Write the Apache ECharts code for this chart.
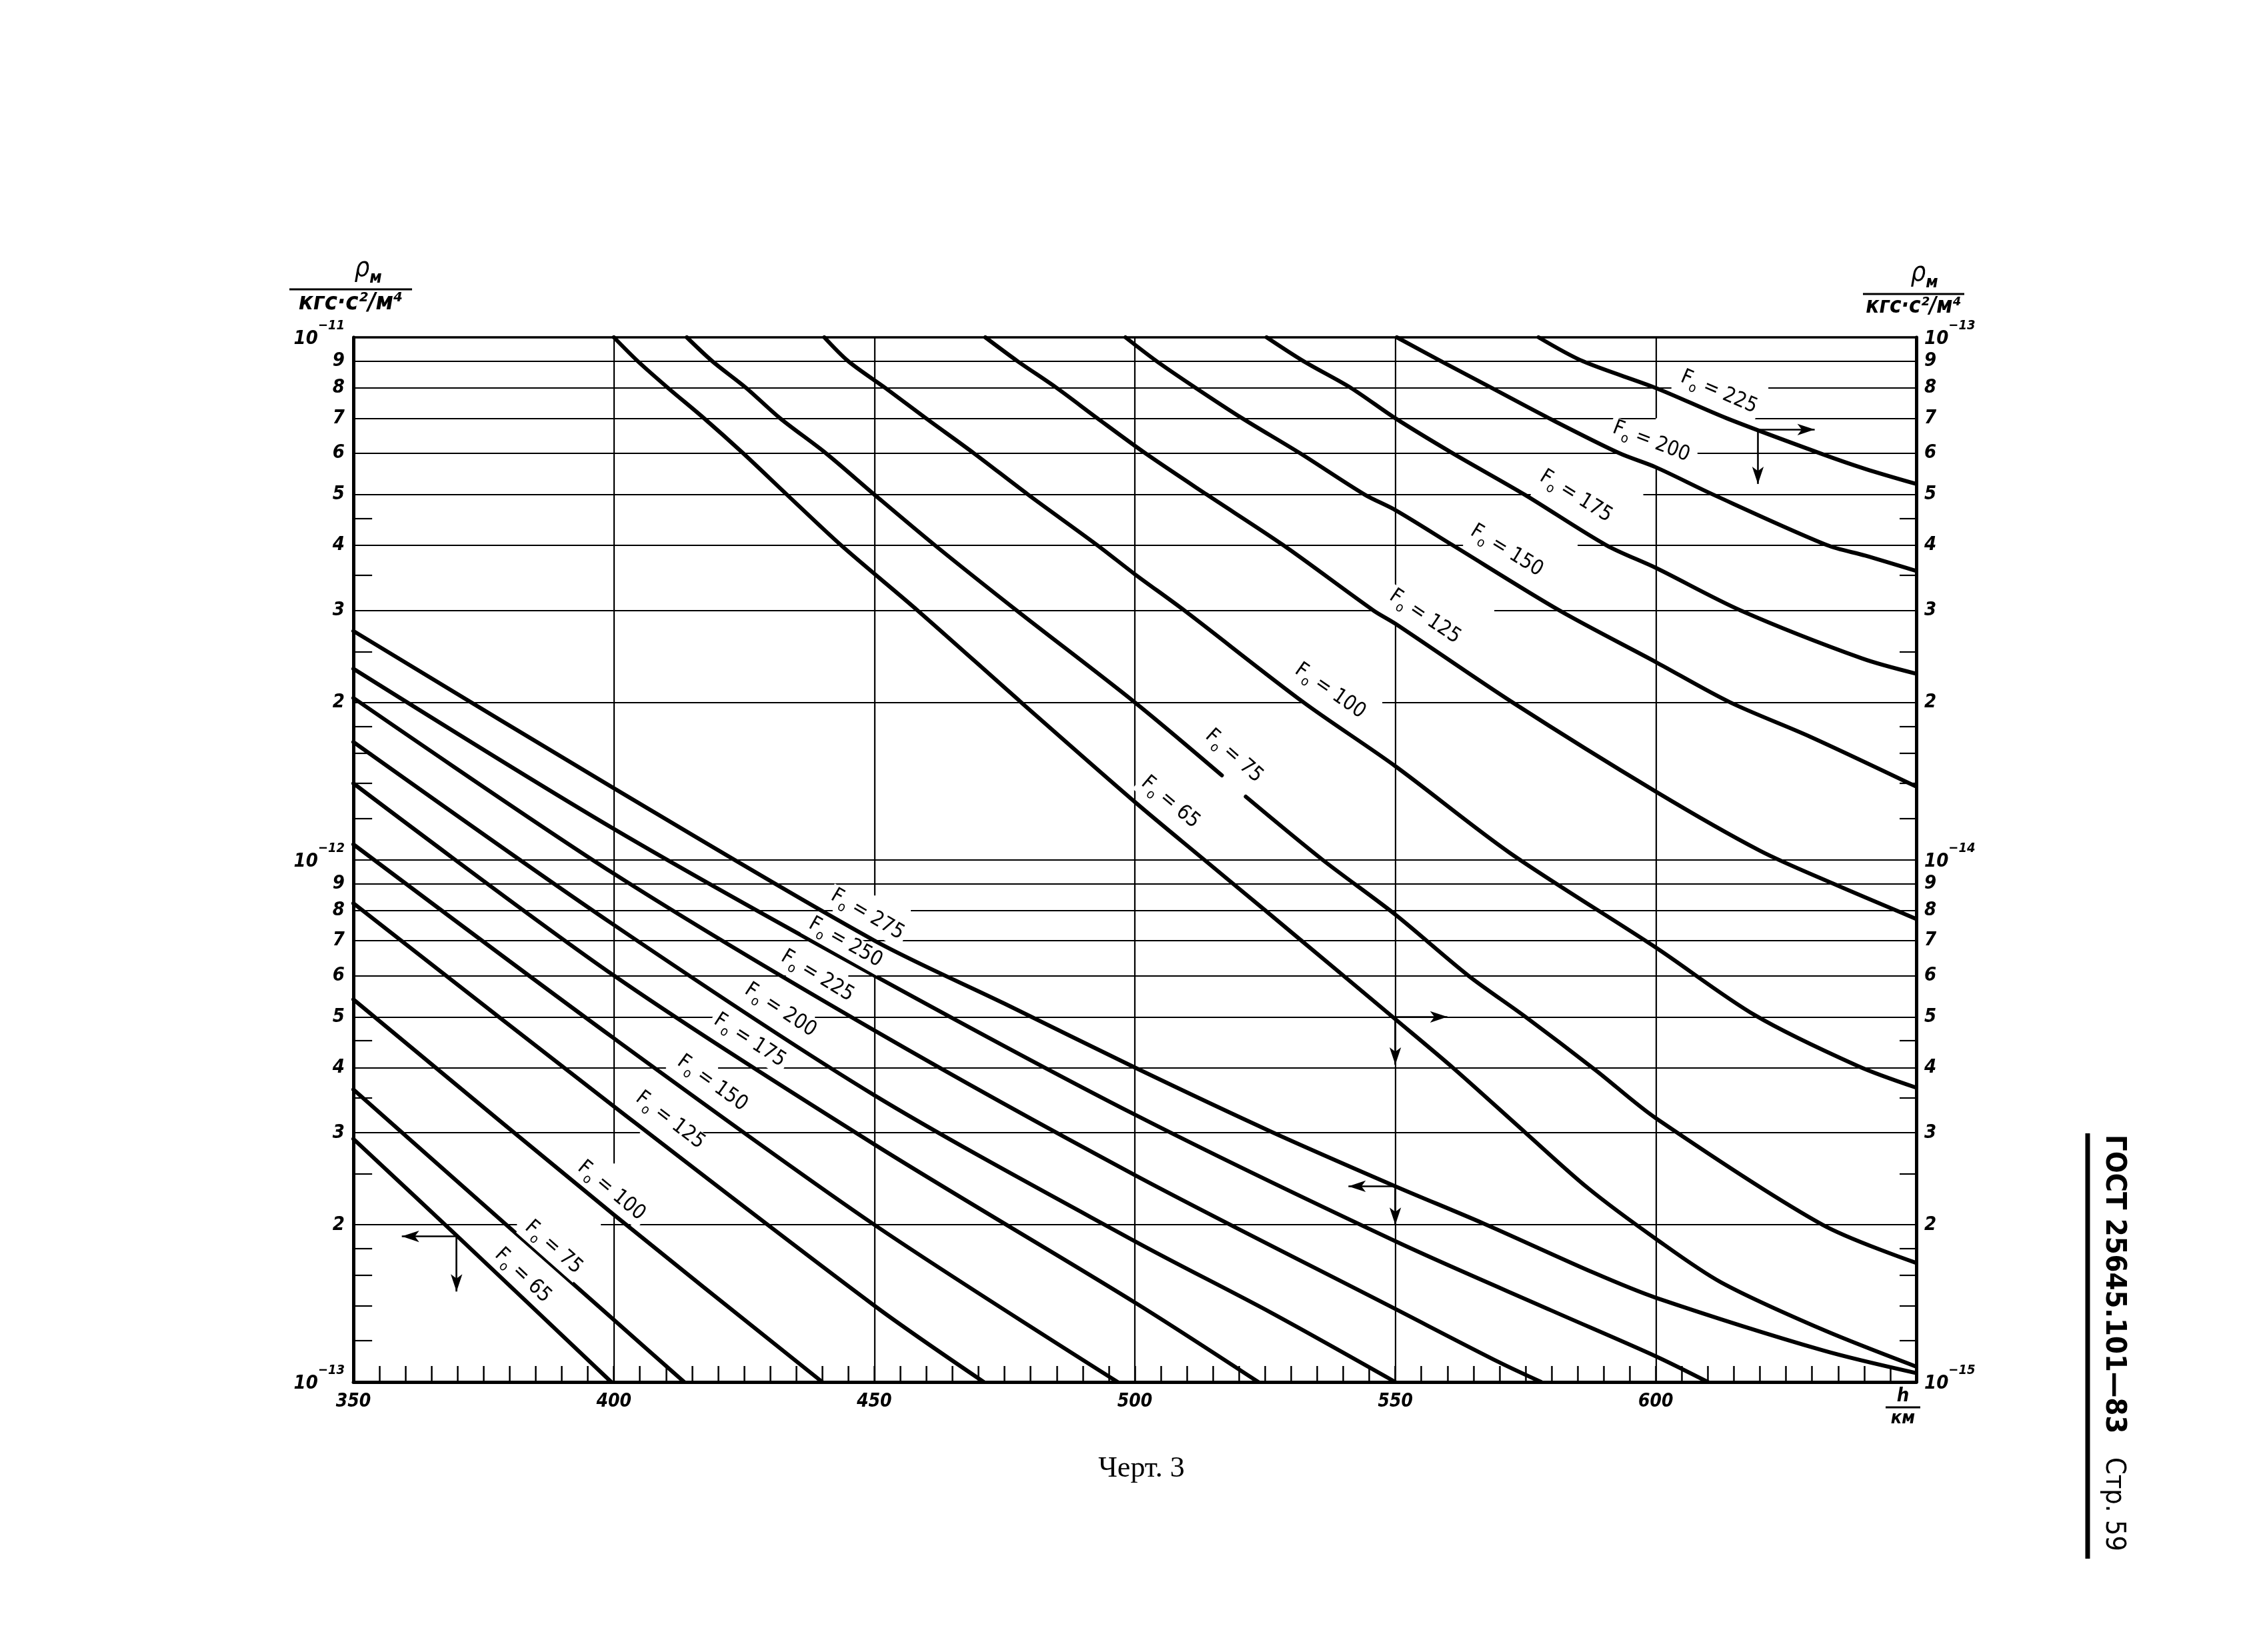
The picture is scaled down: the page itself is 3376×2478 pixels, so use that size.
<!DOCTYPE html>
<html><head><meta charset="utf-8">
<script src="https://cdn.jsdelivr.net/npm/echarts@6.0.0/dist/echarts.min.js"></script>
<style>html,body{margin:0;padding:0;background:#fff}#c{width:3376px;height:2478px}</style>
</head><body><div id="c"></div>
<script>
// ---------------- DATA ----------------
const xTickLabels = ['350','400','450','500','550','600'];
const gridMantissas = [2,3,4,5,6,7,8,9];
const minorMantissas = [1.2,1.4,1.6,1.8,2.5,3.5,4.5];
const leftExps = [-13,-12,-11];
const rightExps = [-15,-14,-13];

const lowerF = [65,75,100,125,150,175,200,225,250,275];
const low65  = [[350,2.92e-13],[370,1.9e-13],[399.5,1.0e-13]];
const low75  = [[350,3.63e-13],[400,1.315e-13],[413.5,1.0e-13]];
const low100 = [[350,5.4e-13],[400,2.09e-13],[440,1.0e-13]];
const low125 = [[350,8.25e-13],[400,3.37e-13],[450,1.40e-13],[471,1.0e-13]];
const low150 = [[350,1.07e-12],[400,4.55e-13],[450,2.0e-13],[496.7,1.0e-13]];
const low175 = [[350,1.40e-12],[400,6.0e-13],[450,2.85e-13],[500,1.42e-13],[523.7,1.0e-13]];
const low200 = [[350,1.68e-12],[400,7.5e-13],[450,3.54e-13],[500,1.86e-13],[526,1.36e-13],[550,1.0e-13]];
const low225 = [[350,2.04e-12],[400,9.4e-13],[450,4.71e-13],[500,2.49e-13],[550,1.38e-13],[570,1.09e-13],[578,1.0e-13]];
const low250 = [[350,2.32e-12],[400,1.145e-12],[450,6.0e-13],[500,3.25e-13],[550,1.86e-13],[580,1.37e-13],[600,1.12e-13],[610,1.0e-13]];
const low275 = [[350,2.74e-12],[400,1.37e-12],[450,7.0e-13],[475,5.3e-13],[500,4.0e-13],[526,3.02e-13],[550,2.37e-13],[567,2.01e-13],[588,1.62e-13],[600,1.45e-13],[632,1.15e-13],[650,1.04e-13]];

const upperF = [65,75,100,125,150,175,200,225];
const up65  = [[400,1e-13],[404.6,9e-14],[410.4,8e-14],[417.3,7e-14],[424.8,6e-14],[433.2,5e-14],[443.6,4e-14],[458.3,3e-14],[478.2,2e-14],[500,1.29e-14],[513.3,1e-14],[525,8e-15],[540,6e-15],[550,4.95e-15],[561,4e-15],[575,3e-15],[587,2.35e-15],[600,1.88e-15],[612.6,1.55e-15],[632,1.26e-15],[650,1.07e-15]];
const up75  = [[414,1e-13],[418.9,9e-14],[425.4,8e-14],[431.9,7e-14],[440.7,6e-14],[450,5e-14],[461.6,4e-14],[477.3,3e-14],[500,2e-14],[516.7,1.45e-14],[519,'-'],[521.3,1.32e-14],[536,1e-14],[550,7.85e-15],[564,6.0e-15],[575,5e-15],[588.5,3.95e-15],[600,3.2e-15],[632,2e-15],[650,1.69e-15]];
const up100 = [[440.4,1e-13],[445,9e-14],[452.1,8e-14],[459.9,7e-14],[469.1,6e-14],[479.5,5e-14],[492.8,4e-14],[500,3.52e-14],[509.5,3e-14],[532.4,2e-14],[550,1.51e-14],[572,1.03e-14],[600,6.79e-15],[619,5.04e-15],[638.7,4.03e-15],[650,3.66e-15]];
const up125 = [[471.3,1e-13],[477.5,9e-14],[485,8e-14],[492.8,7e-14],[502,6e-14],[513.8,5e-14],[528.5,4e-14],[545.8,3e-14],[550,2.83e-14],[572.5,2e-14],[600,1.35e-14],[620,1.04e-14],[634,9e-15],[650,7.7e-15]];
const up150 = [[498.2,1e-13],[504.2,9e-14],[511.7,8e-14],[520.6,7e-14],[531.7,6e-14],[544.1,5e-14],[550,4.67e-14],[561,4e-14],[581.5,3e-14],[600,2.39e-14],[614.3,2e-14],[629.6,1.72e-14],[650,1.38e-14]];
const up175 = [[525.3,1e-13],[532.4,9e-14],[541.5,8e-14],[550,7e-14],[561,6e-14],[574.8,5e-14],[590.5,4e-14],[600,3.62e-14],[616.3,3e-14],[639.5,2.43e-14],[650,2.27e-14]];
const up200 = [[550.3,1e-13],[558.8,9e-14],[568.5,8e-14],[579.5,7e-14],[593,6e-14],[600,5.64e-14],[611,5e-14],[632.9,4e-14],[640.2,3.82e-14],[650,3.57e-14]];
const up225 = [[577.5,1e-13],[586,9e-14],[600,8e-14],[613.6,7e-14],[631.5,6e-14],[640.2,5.6e-14],[650,5.24e-14]];

const lowerCurves = [low65,low75,low100,low125,low150,low175,low200,low225,low250,low275];
const upperCurves = [up65,up75,up100,up125,up150,up175,up200,up225];

// ---------------- LAYOUT (annotation placement, in data units) ----------------
const lowerLabelPos = [[65,382.3,1.59e-13],[75,388.2,1.80e-13],[100,399.3,2.31e-13],[125,410.6,3.15e-13],[150,418.7,3.71e-13],[175,425.9,4.48e-13],[200,431.8,5.12e-13],[225,438.9,5.95e-13],[250,444.3,6.9e-13],[275,448.5,7.8e-13]];
const upperLabelPos = [[65,506.6,1.28e-14],[75,518.8,1.57e-14],[100,537.3,2.09e-14],[125,555.5,2.9e-14],[150,571.2,3.88e-14],[175,584.5,4.93e-14],[200,599,6.27e-14],[225,612,7.8e-14]];
const hGaps = [
  [8e-12,[[603,621.6]]],[7e-12,[[600,618.6]]],[6e-12,[[593.5,608]]],[5e-12,[[576,597.6]]],
  [4e-12,[[563,585]]],[3e-12,[[546,569]]],[2e-12,[[532,547.5]]],
  [8e-13,[[442,457]]],[6e-13,[[433,445]]],[5e-13,[[419,438.6]]],[4e-13,[[410,420]]],
  [3e-13,[[405,416]]],[2e-13,[[381.4,397.5]]]
];
const vGaps = [[400,[[2.09e-13,2.62e-13]]],[450,[[6.76e-13,8.54e-13]]],[550,[[2.83e-12,3.12e-12]]],[600,[[5.65e-12,7.0e-12]]]];
const arrowsL = [[[369.8,1.9e-13],[359.3,1.9e-13]],[[369.8,1.9e-13],[369.8,1.49e-13]],[[550,2.37e-13],[541,2.37e-13]],[[550,2.37e-13],[550,2.0e-13]]];
const arrowsR = [[[619.6,6.66e-14],[630.5,6.66e-14]],[[619.6,6.66e-14],[619.6,5.24e-14]],[[550,5e-15],[560,5e-15]],[[550,5e-15],[550,4.05e-15]]];

// ---------------- BUILD ----------------
const FONT = '"DejaVu Sans Condensed","DejaVu Sans",sans-serif';
const chart = echarts.init(document.getElementById('c'), null, {renderer:'canvas', width:3376, height:2478});

function minus(a, b, gaps) {
  let segs = [[a,b]];
  (gaps||[]).forEach(([g0,g1]) => {
    const out = [];
    segs.forEach(([s0,s1]) => {
      if (g1 <= s0 || g0 >= s1) { out.push([s0,s1]); return; }
      if (g0 > s0) out.push([s0,g0]);
      if (g1 < s1) out.push([g1,s1]);
    });
    segs = out;
  });
  return segs;
}
const gapOf = (tbl, v) => { const f = tbl.find(t => Math.abs(t[0]-v)/v < 1e-6); return f ? f[1] : []; };

const gridL = [];
[-13,-12].forEach(e => {
  gridMantissas.forEach(m => {
    const v = m*Math.pow(10,e);
    minus(350,650,gapOf(hGaps,v)).forEach(([a,b]) => gridL.push([{coord:[a,v]},{coord:[b,v]}]));
  });
});
gridL.push([{coord:[350,1e-12]},{coord:[650,1e-12]}]);
gridL.push([{coord:[350,1e-11],lineStyle:{width:3.5}},{coord:[650,1e-11]}]);
[400,450,500,550,600].forEach(x => {
  minus(1e-13,1e-11,gapOf(vGaps,x)).forEach(([a,b]) => gridL.push([{coord:[x,a]},{coord:[x,b]}]));
});
[-13,-12].forEach(e => minorMantissas.forEach(m => {
  const v = m*Math.pow(10,e);
  gridL.push([{coord:[350,v]},{coord:[353.6,v]}]);
}));
const gridR = [];
[-15,-14].forEach(e => minorMantissas.forEach(m => {
  const v = m*Math.pow(10,e);
  gridR.push([{coord:[646.8,v]},{coord:[650,v]}]);
}));

const mlBase = {silent:true, symbol:['none','none'], animation:false, label:{show:false}, emphasis:{disabled:true}};
const series = [
  {type:'line', yAxisIndex:0, data:[], silent:true, z:1,
   markLine:Object.assign({}, mlBase, {lineStyle:{color:'#000', width:2.2, type:'solid'}, data:gridL})},
  {type:'line', yAxisIndex:1, data:[], silent:true, z:1,
   markLine:Object.assign({}, mlBase, {lineStyle:{color:'#000', width:2.2, type:'solid'}, data:gridR})}
];
const curveStyle = {type:'line', symbol:'none', smooth:0.3, connectNulls:false, silent:true, z:5,
  lineStyle:{color:'#000', width:6, cap:'round', join:'round'}};
lowerCurves.forEach((d,i) => series.push(Object.assign({name:'low'+lowerF[i], yAxisIndex:0, data:d}, curveStyle)));
upperCurves.forEach((d,i) => series.push(Object.assign({name:'up'+upperF[i], yAxisIndex:1, data:d}, curveStyle)));
const arrowML = (arr) => Object.assign({}, mlBase, {symbol:['none','arrow'], symbolSize:[13,26],
  lineStyle:{color:'#000', width:2.6, type:'solid'},
  data: arr.map(([p,q]) => [{coord:p},{coord:q}])});
series.push({type:'line', yAxisIndex:0, data:[], silent:true, z:6, markLine:arrowML(arrowsL)});
series.push({type:'line', yAxisIndex:1, data:[], silent:true, z:6, markLine:arrowML(arrowsR)});

const option = {
  animation:false,
  backgroundColor:'#fff',
  grid:{left:530, right:502, top:506, bottom:405, containLabel:false, outerBoundsMode:'none'},
  xAxis:{type:'value', min:350, max:650, interval:50,
    axisLine:{show:true, onZero:false, lineStyle:{color:'#000', width:5}},
    axisTick:{show:true, inside:true, length:24, lineStyle:{color:'#000', width:2.5}},
    minorTick:{show:true, splitNumber:10, length:24, lineStyle:{color:'#000', width:2.5}},
    axisLabel:{show:true, margin:16, color:'#000', fontSize:28, fontStyle:'italic', fontWeight:'bold', fontFamily:FONT,
      formatter: v => { const s = String(Math.round(v)); return xTickLabels.indexOf(s) >= 0 ? s : ''; }},
    splitLine:{show:false}, minorSplitLine:{show:false}},
  yAxis:[
    {type:'log', logBase:10, min:1e-13, max:1e-11, position:'left',
     axisLine:{show:true, onZero:false, lineStyle:{color:'#000', width:5}}, axisTick:{show:false}, axisLabel:{show:false}, splitLine:{show:false}},
    {type:'log', logBase:10, min:1e-15, max:1e-13, position:'right',
     axisLine:{show:true, onZero:false, lineStyle:{color:'#000', width:5}}, axisTick:{show:false}, axisLabel:{show:false}, splitLine:{show:false}}
  ],
  series: series
};
chart.setOption(option);

// ---------------- ANNOTATIONS (positioned through the chart scales) ----------------
const els = [];
const P = (si, p) => chart.convertToPixel({seriesIndex:si}, p);
const tickFont = 'italic bold 29px ' + FONT;
const powRich = {b:{font:'italic bold 29px '+FONT, lineHeight:44, verticalAlign:'bottom', fill:'#000'},
                 s:{font:'italic bold 20px '+FONT, lineHeight:22, verticalAlign:'top', fill:'#000'}};
const xL = P(0,[350,1e-12])[0], xR = P(1,[650,1e-14])[0];
[-13,-12].forEach(e => gridMantissas.forEach(m => {
  const y = P(0,[350,m*Math.pow(10,e)])[1];
  els.push({type:'text', x:xL-13, y:y, z:60, style:{text:String(m), font:tickFont, fill:'#000', align:'right', verticalAlign:'middle'}});
}));
leftExps.forEach(e => {
  const y = P(0,[350,Math.pow(10,e)])[1];
  els.push({type:'text', x:xL-13, y:y-5, z:60, style:{text:'{b|10}{s|\u2212'+(-e)+'}', rich:powRich, align:'right', verticalAlign:'middle'}});
});
[-15,-14].forEach(e => gridMantissas.forEach(m => {
  const y = P(1,[650,m*Math.pow(10,e)])[1];
  els.push({type:'text', x:xR+12, y:y, z:60, style:{text:String(m), font:tickFont, fill:'#000', align:'left', verticalAlign:'middle'}});
}));
rightExps.forEach(e => {
  const y = P(1,[650,Math.pow(10,e)])[1];
  els.push({type:'text', x:xR+12, y:y-5, z:60, style:{text:'{b|10}{s|\u2212'+(-e)+'}', rich:powRich, align:'left', verticalAlign:'middle'}});
});

function curveLabels(curves, Fs, table, offset) {
  table.forEach(([F, km, v]) => {
    const i = Fs.indexOf(F);
    const d = curves[i].filter(p => typeof p[1] === 'number');
    let a = d[0], b = d[1];
    for (let k = 0; k < d.length-1; k++) { if (d[k][0] <= km && km <= d[k+1][0]) { a = d[k]; b = d[k+1]; break; } }
    const pa = P(offset+i, a), pb = P(offset+i, b);
    const ang = Math.atan2(pb[1]-pa[1], pb[0]-pa[0]);
    const c = P(offset+i, [km, v]);
    els.push({type:'text', x:c[0], y:c[1], rotation:-ang, z:40,
      style:{text:'{f|F}{o|o}{t| = '+F+'}', align:'center', verticalAlign:'middle',
             rich:{f:{font:'31px '+FONT, lineHeight:36, verticalAlign:'top', fill:'#000'},
                   o:{font:'20px '+FONT, lineHeight:20, verticalAlign:'bottom', fill:'#000'},
                   t:{font:'31px '+FONT, lineHeight:36, verticalAlign:'top', fill:'#000'}},
             backgroundColor:'#fff', padding:[0,5]}});
  });
}
curveLabels(lowerCurves, lowerF, lowerLabelPos, 2);
curveLabels(upperCurves, upperF, upperLabelPos, 2+lowerF.length);

function fraction(cx, lineY, x1, x2, numX, denomSize) {
  els.push({type:'text', x:numX, y:lineY-4, z:60, style:{text:'{r|\u03c1}{m|\u043c}', align:'center', verticalAlign:'bottom',
    rich:{r:{font:'italic 40px '+FONT, lineHeight:46, verticalAlign:'top', fill:'#000'},
          m:{font:'italic bold 25px '+FONT, lineHeight:25, verticalAlign:'bottom', fill:'#000'}}}});
  els.push({type:'line', z:60, shape:{x1:x1, y1:lineY, x2:x2, y2:lineY}, style:{stroke:'#000', lineWidth:3}});
  els.push({type:'text', x:cx, y:lineY+3, z:60, style:{text:'\u043a\u0433\u0441\u00b7\u0441\u00b2/\u043c\u2074', font:'italic bold '+denomSize+'px '+FONT, fill:'#000', align:'center', verticalAlign:'top'}});
}
fraction(xL-4, 434, xL-96, xL+88, xL+22, 36);
fraction(xR-4, 441, xR-80, xR+72, xR+12, 33);

const yB = P(0,[650,1e-13])[1];
els.push({type:'text', x:xR-20, y:yB+36, z:60, style:{text:'h', font:'italic bold 29px '+FONT, fill:'#000', align:'center', verticalAlign:'bottom'}});
els.push({type:'line', z:60, shape:{x1:xR-46, y1:yB+38, x2:xR+6, y2:yB+38}, style:{stroke:'#000', lineWidth:3}});
els.push({type:'text', x:xR-20, y:yB+41, z:60, style:{text:'\u043a\u043c', font:'italic bold 27px '+FONT, fill:'#000', align:'center', verticalAlign:'top'}});

els.push({type:'text', x:1712, y:2203, z:60, style:{text:'\u0427\u0435\u0440\u0442. 3', font:'44px "Liberation Serif", serif', fill:'#000', align:'center', verticalAlign:'middle'}});
els.push({type:'line', z:60, shape:{x1:3131, y1:1700, x2:3131, y2:2338}, style:{stroke:'#000', lineWidth:7}});
els.push({type:'text', x:3170, y:1702, rotation:-Math.PI/2, z:60, style:{text:'\u0413\u041e\u0421\u0422 25645.101\u201483', font:'bold 43px '+FONT, fill:'#000', align:'left', verticalAlign:'middle'}});
els.push({type:'text', x:3170, y:2186, rotation:-Math.PI/2, z:60, style:{text:'\u0421\u0442\u0440. 59', font:'41px '+FONT, fill:'#000', align:'left', verticalAlign:'middle'}});

chart.setOption({graphic:{elements:els}});
</script>
</body></html>
